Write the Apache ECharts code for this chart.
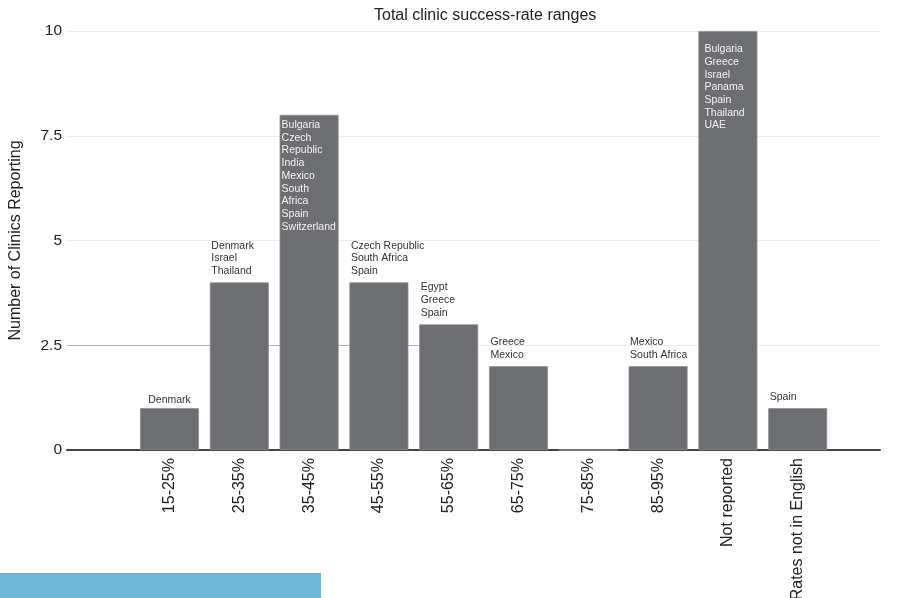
<!DOCTYPE html>
<html>
<head>
<meta charset="utf-8">
<script src="https://cdn.jsdelivr.net/npm/echarts@6/dist/echarts.min.js"></script>
<style>html,body{margin:0;padding:0;background:#fff;}#chart{width:898px;height:598px;}</style>
</head>
<body>
<div id="chart"></div>
<script>
var titleText = 'Total clinic success-rate ranges';
var yAxisName = 'Number of Clinics Reporting';
var categories = ['15-25%', '25-35%', '35-45%', '45-55%', '55-65%', '65-75%', '75-85%', '85-95%', 'Not reported', 'Rates not in English'];
var counts = [1, 4, 8, 4, 3, 2, 0, 2, 10, 1];
var countries = [
  ['Denmark'],
  ['Denmark', 'Israel', 'Thailand'],
  ['Bulgaria', 'Czech', 'Republic', 'India', 'Mexico', 'South', 'Africa', 'Spain', 'Switzerland'],
  ['Czech Republic', 'South Africa', 'Spain'],
  ['Egypt', 'Greece', 'Spain'],
  ['Greece', 'Mexico'],
  [],
  ['Mexico', 'South Africa'],
  ['Bulgaria', 'Greece', 'Israel', 'Panama', 'Spain', 'Thailand', 'UAE'],
  ['Spain']
];
var yTicks = [0, 2.5, 5, 7.5, 10];

var FONT = '"Liberation Sans", Arial, Helvetica, sans-serif';
var chart = echarts.init(document.getElementById('chart'), null, {renderer: 'canvas'});

var barData = counts.map(function (v, i) {
  var text = countries[i].join('\n');
  var label;
  if (v >= 8) {
    label = {
      show: text.length > 0,
      formatter: text,
      position: i === 8 ? [6, 12] : [2, 4],
      align: 'left',
      verticalAlign: 'top',
      color: '#f2f2f2',
      fontSize: 10.5,
      lineHeight: 12.7,
      fontFamily: FONT
    };
  } else {
    label = {
      show: text.length > 0,
      formatter: text,
      position: 'top',
      distance: i === 0 ? 2 : 5,
      align: i === 0 ? 'center' : 'left',
      offset: i === 0 ? [0, 0] : [-28, 0],
      color: '#333',
      fontSize: 10.5,
      lineHeight: 12.7,
      fontFamily: FONT
    };
  }
  return {value: v, label: label};
});

var option = {
  animation: false,
  backgroundColor: '#fff',
  title: {
    text: titleText,
    left: 369,
    top: 3,
    textStyle: {fontSize: 16, fontWeight: 'normal', color: '#222', fontFamily: FONT}
  },
  grid: [
    {left: 67, right: 18, top: 31, height: 419, outerBoundsMode: 'none', containLabel: false},
    {left: 134.6, right: 65.4, top: 31, height: 419, outerBoundsMode: 'none', containLabel: false},
    {left: 67, width: 383, top: 31, height: 419, outerBoundsMode: 'none', containLabel: false}
  ],
  xAxis: [
    {
      gridIndex: 0, type: 'category', data: [''],
      axisLine: {show: true, lineStyle: {color: '#444', width: 2}},
      axisTick: {show: false}, axisLabel: {show: false}, splitLine: {show: false}
    },
    {
      gridIndex: 1, type: 'category', data: categories,
      axisLine: {show: false}, axisTick: {show: false},
      axisLabel: {rotate: 90, interval: 0, margin: 8, fontSize: 16, color: '#222', fontFamily: FONT}
    },
    {
      gridIndex: 2, type: 'category', data: [''],
      axisLine: {show: false}, axisTick: {show: false}, axisLabel: {show: false}
    }
  ],
  yAxis: [
    {
      gridIndex: 0, type: 'value', min: 0, max: 10, interval: 2.5,
      name: yAxisName, nameLocation: 'middle', nameGap: 43, nameRotate: 90,
      nameTextStyle: {fontSize: 16, color: '#222', fontFamily: FONT},
      axisLine: {show: false}, axisTick: {show: false},
      axisLabel: {margin: 5, fontSize: 15.5, color: '#222', fontFamily: FONT},
      splitLine: {show: true, lineStyle: {color: ['rgba(0,0,0,0)', '#ececec', '#ececec', '#ececec', '#ececec'], width: 1}}
    },
    {
      gridIndex: 1, type: 'value', min: 0, max: 10, interval: 2.5, show: false
    },
    {
      gridIndex: 2, type: 'value', min: 0, max: 10, interval: 2.5,
      axisLine: {show: false}, axisTick: {show: false}, axisLabel: {show: false},
      splitLine: {show: true, lineStyle: {color: ['rgba(0,0,0,0)', '#b3b3b3', 'rgba(0,0,0,0)', 'rgba(0,0,0,0)', 'rgba(0,0,0,0)'], width: 1}}
    }
  ],
  series: [
    {
      type: 'bar',
      xAxisIndex: 1, yAxisIndex: 1,
      data: barData,
      barWidth: 59,
      itemStyle: {color: '#6d6e72', borderColor: '#8f9093', borderWidth: 0.8},
      emphasis: {disabled: true},
      z: 3
    }
  ],
  graphic: [
    {type: 'rect', left: 0, top: 573, shape: {width: 321, height: 25}, style: {fill: '#6cb7d9'}, z: 10}
  ]
};
chart.setOption(option);
</script>
</body>
</html>
